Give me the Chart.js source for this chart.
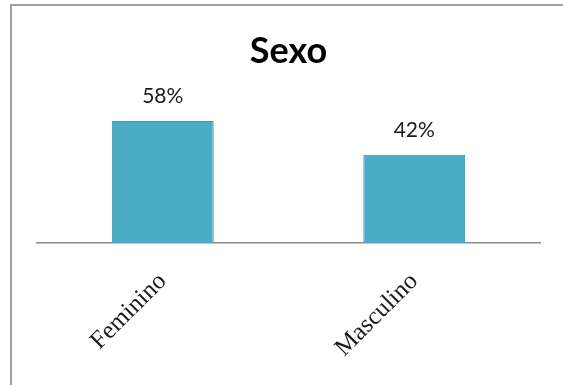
<!DOCTYPE html>
<html>
<head>
<meta charset="utf-8">
<script src="https://cdn.jsdelivr.net/npm/chart.js@4.4.1/dist/chart.umd.min.js"></script>
<style>
  html, body { margin: 0; padding: 0; background: #fff; }
  #wrap { position: relative; width: 563px; height: 385px; }
</style>
</head>
<body>
<div id="wrap"><canvas id="myChart"></canvas></div>
<script>
// dados do gráfico
var categorias = ['Feminino', 'Masculino'];
var valores = [58, 42];
var rotulos = ['58%', '42%'];
var titulo = 'Sexo';

// moldura cinza em volta do gráfico
var moldura = {
    id: 'moldura',
    beforeDraw: function (chart) {
        var ctx = chart.ctx;
        ctx.save();
        ctx.strokeStyle = '#a0a0a0';
        ctx.lineWidth = 2;
        ctx.strokeRect(11, 5, 620, 420);
        ctx.restore();
    }
};

// rótulos de porcentagem acima das barras
var rotulosBarras = {
    id: 'rotulosBarras',
    afterDatasetsDraw: function (chart) {
        var ctx = chart.ctx;
        var meta = chart.getDatasetMeta(0);
        ctx.save();
        ctx.font = '21px Lato';
        ctx.fillStyle = '#1a1a1a';
        ctx.textAlign = 'center';
        ctx.textBaseline = 'alphabetic';
        meta.data.forEach(function (bar, i) {
            ctx.fillText(rotulos[i], bar.x, bar.y - 18);
        });
        ctx.restore();
    }
};

var ctx = document.getElementById('myChart').getContext('2d');
var myChart = new Chart(ctx, {
    type: 'bar',
    data: {
        labels: categorias,
        datasets: [{
            label: titulo,
            data: valores,
            backgroundColor: '#4bacc6',
            borderColor: '#3d93ab',
            borderWidth: 1,
            barPercentage: 0.405,
            categoryPercentage: 1
        }]
    },
    options: {
        responsive: true,
        maintainAspectRatio: false,
        animation: false,
        layout: { padding: { top: 20, left: 37, right: 23, bottom: 0 } },
        plugins: {
            legend: { display: false },
            tooltip: { enabled: false },
            title: {
                display: true,
                text: titulo,
                color: '#000',
                font: { family: 'Lato', size: 36, weight: 'bold' },
                padding: { top: 10, bottom: 10 }
            }
        },
        scales: {
            x: {
                grid: { display: false },
                border: { display: true, color: '#8c8c8c', width: 1.5 },
                ticks: {
                    color: '#1a1a1a',
                    font: { family: 'Liberation Serif', size: 25 },
                    minRotation: 45,
                    maxRotation: 45,
                    padding: 16
                },
                afterFit: function (scale) { scale.height = 142; }
            },
            y: {
                display: false,
                min: 0,
                max: 76
            }
        }
    },
    plugins: [moldura, rotulosBarras]
});
</script>
</body>
</html>
